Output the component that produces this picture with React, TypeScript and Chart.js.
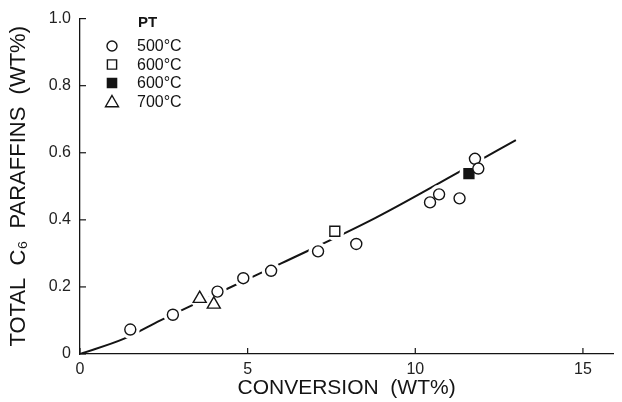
import React, { useEffect, useRef } from 'react';
import { Chart, registerables } from 'chart.js';
Chart.register(...registerables);

// ---- data ----
const xTicks = [0, 5, 10, 15];
const yTicks = [0, 0.2, 0.4, 0.6, 0.8, 1.0];

const conv500 = [1.5, 2.77, 4.1, 4.87, 5.7, 7.1, 8.24, 10.44, 10.71, 11.32, 11.78, 11.88];
const para500 = [0.073, 0.117, 0.186, 0.226, 0.248, 0.306, 0.328, 0.452, 0.476, 0.464, 0.582, 0.553];

const conv600Open = [7.6];
const para600Open = [0.366];

const conv600Filled = [11.6];
const para600Filled = [0.538];

const conv700 = [3.57, 3.99];
const para700 = [0.165, 0.148];

const fitConv = [0, 1.3, 2.4, 4.3, 6.0, 8.8, 11.35, 13.0];
const fitPara = [0, 0.045, 0.1, 0.19, 0.27, 0.405, 0.545, 0.638];

const legendTitle = 'PT';
const seriesLabels = ['500°C', '600°C', '600°C', '700°C'];
const xTitle = 'CONVERSION  (WT%)';
const yTitle = 'TOTAL  C₆  PARAFFINS  (WT%)';

const FONT = '"Liberation Sans", Arial, Helvetica, sans-serif';
const INK = '#141414';

const pts = (xs: number[], ys: number[]) => xs.map((x, i) => ({ x, y: ys[i] }));

function drawMarker(ctx: CanvasRenderingContext2D, style: string, filled: boolean, x: number, y: number, r: number) {
  ctx.save();
  ctx.lineWidth = 1.4;
  ctx.strokeStyle = INK;
  ctx.fillStyle = filled ? INK : '#fff';
  ctx.beginPath();
  if (style === 'circle') {
    ctx.arc(x, y, r, 0, Math.PI * 2);
  } else if (style === 'rect') {
    const s = r * Math.SQRT1_2;
    ctx.rect(x - s, y - s, 2 * s, 2 * s);
  } else if (style === 'triangle') {
    ctx.moveTo(x, y - r);
    ctx.lineTo(x + r * Math.sin(Math.PI / 3), y + r / 2);
    ctx.lineTo(x - r * Math.sin(Math.PI / 3), y + r / 2);
    ctx.closePath();
  }
  ctx.fill();
  ctx.stroke();
  ctx.restore();
}

const FIT_INDEX = 4;

const customPlugin = {
  id: 'custom',
  afterDatasetDraw(chart: any, args: any) {
    if (args.index !== FIT_INDEX) return;
    const ctx = chart.ctx;
    ctx.save();
    ctx.fillStyle = '#fff';
    for (let d = 0; d < FIT_INDEX; d++) {
      const meta = chart.getDatasetMeta(d);
      meta.data.forEach((el: any) => {
        ctx.beginPath();
        ctx.arc(el.x, el.y, 9.5, 0, Math.PI * 2);
        ctx.fill();
      });
    }
    ctx.restore();
  },
  afterDraw(chart: any) {
    const ctx = chart.ctx;
    const xs = chart.scales.x;
    const ys = chart.scales.y;
    const area = chart.chartArea;
    ctx.save();
    // inward tick marks
    ctx.strokeStyle = INK;
    ctx.lineWidth = 1.2;
    xTicks.forEach((v) => {
      const px = xs.getPixelForValue(v);
      ctx.beginPath();
      ctx.moveTo(px, area.bottom);
      ctx.lineTo(px, area.bottom - 6);
      ctx.stroke();
    });
    yTicks.forEach((v) => {
      const py = ys.getPixelForValue(v);
      ctx.beginPath();
      ctx.moveTo(area.left, py);
      ctx.lineTo(area.left + 6, py);
      ctx.stroke();
    });
    // x title
    ctx.fillStyle = INK;
    ctx.font = `21px ${FONT}`;
    ctx.textAlign = 'center';
    ctx.textBaseline = 'middle';
    ctx.fillText(xTitle, (area.left + area.right) / 2, 388);
    // legend
    ctx.font = `bold 15px ${FONT}`;
    ctx.textAlign = 'left';
    ctx.fillText(legendTitle, 138, 23);
    ctx.font = `16px ${FONT}`;
    for (let d = 0; d < FIT_INDEX; d++) {
      const ds = chart.data.datasets[d];
      const y = 46 + d * 18.5;
      const filled = ds.backgroundColor !== '#fff';
      const r = ds.pointStyle === 'circle' ? 5 : ds.pointStyle === 'rect' ? 6.5 : 7.5;
      drawMarker(ctx, ds.pointStyle, filled, 112, ds.pointStyle === 'triangle' ? y + 1.5 : y, r);
      ctx.fillStyle = INK;
      ctx.fillText(ds.label, 137, y + 1);
    }
    ctx.restore();
  },
};

export default function App() {
  const ref = useRef<HTMLCanvasElement>(null);
  useEffect(() => {
    Chart.defaults.font.family = FONT;
    const scatterBase = {
      type: 'scatter' as const,
      borderColor: INK,
      borderWidth: 1.4,
      showLine: false,
    };
    const chart = new Chart(ref.current!, {
      type: 'scatter',
      data: {
        datasets: [
          { ...scatterBase, label: seriesLabels[0], data: pts(conv500, para500), pointStyle: 'circle', pointRadius: 5.5, backgroundColor: '#fff' },
          { ...scatterBase, label: seriesLabels[1], data: pts(conv600Open, para600Open), pointStyle: 'rect', pointRadius: 7, backgroundColor: '#fff' },
          { ...scatterBase, label: seriesLabels[2], data: pts(conv600Filled, para600Filled), pointStyle: 'rect', pointRadius: 7, backgroundColor: INK },
          { ...scatterBase, label: seriesLabels[3], data: pts(conv700, para700), pointStyle: 'triangle', pointRadius: 7.5, backgroundColor: '#fff' },
          {
            type: 'line' as const,
            label: 'fit',
            data: pts(fitConv, fitPara),
            borderColor: INK,
            borderWidth: 2,
            pointRadius: 0,
            showLine: true,
            fill: false,
            cubicInterpolationMode: 'monotone',
          } as any,
        ],
      },
      options: {
        animation: false,
        responsive: true,
        maintainAspectRatio: false,
        layout: { padding: { top: 14, right: 0, left: 0, bottom: 0 } },
        plugins: { legend: { display: false }, tooltip: { enabled: false } },
        scales: {
          x: {
            type: 'linear',
            min: 0,
            max: 15.9,
            afterBuildTicks: (s: any) => { s.ticks = xTicks.map((v) => ({ value: v })); },
            afterFit: (s: any) => { s.height = 48; },
            grid: { display: false, drawTicks: false },
            border: { display: true, color: INK, width: 1.3 },
            ticks: { color: '#222', font: { size: 16 }, padding: 6, maxRotation: 0, autoSkip: false, callback: (v: any) => String(v) },
            title: { display: false },
          },
          y: {
            type: 'linear',
            min: 0,
            max: 1.0,
            afterBuildTicks: (s: any) => { s.ticks = yTicks.map((v) => ({ value: v })); },
            afterFit: (s: any) => { s.width = 80; },
            grid: { display: false, drawTicks: false },
            border: { display: true, color: INK, width: 1.3 },
            ticks: { color: '#222', font: { size: 16 }, padding: 9, autoSkip: false, callback: (v: any) => (v === 0 ? '0' : Number(v).toFixed(1)) },
            title: { display: true, text: yTitle, color: INK, font: { size: 22 }, padding: { top: 6, bottom: 0 } },
          },
        },
      },
      plugins: [customPlugin],
    } as any);
    return () => chart.destroy();
  }, []);
  return (
    <div style={{ position: 'absolute', left: 0, top: 0, width: 622, height: 402 }}>
      <canvas ref={ref} />
    </div>
  );
}
